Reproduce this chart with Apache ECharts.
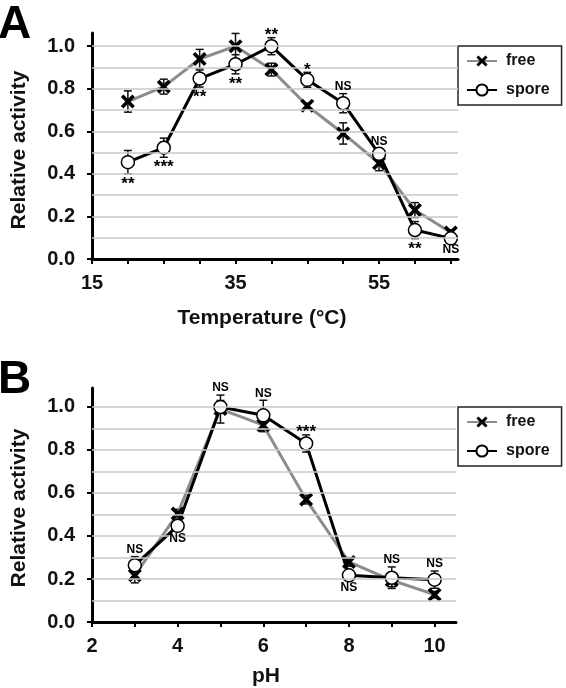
<!DOCTYPE html>
<html>
<head>
<meta charset="utf-8">
<script src="https://cdn.jsdelivr.net/npm/echarts@6/dist/echarts.min.js"></script>
<style>html,body{margin:0;padding:0;background:#fff;}#c{width:566px;height:688px;}</style>
</head>
<body>
<div id="c"></div>
<script>
// ---- Data (Panel A: temperature) ----
const tempCats = [20, 25, 30, 35, 40, 45, 50, 55, 60, 65];
const tempFree = [0.74, 0.81, 0.94, 1.00, 0.89, 0.72, 0.59, 0.45, 0.23, 0.125];
const tempFreeErr = [0.05, 0.035, 0.045, 0.06, 0.03, 0.012, 0.05, 0.035, 0.035, 0.012];
const tempSpore = [0.455, 0.523, 0.848, 0.915, 1.00, 0.842, 0.732, 0.494, 0.136, 0.097];
const tempSporeErr = [0.055, 0.045, 0.04, 0.045, 0.04, 0.035, 0.045, 0.025, 0.04, 0.012];
const tempSig = ['**', '***', '**', '**', '**', '*', 'NS', 'NS', '**', 'NS'];
const tempSigSide = ['below', 'below', 'below', 'below', 'above', 'above', 'above', 'above', 'below', 'below'];
const tempTickLabels = [15, 35, 55];
const tempTicks = [15, 20, 25, 30, 35, 40, 45, 50, 55, 60, 65];

// ---- Data (Panel B: pH) ----
const phCats = [3, 4, 5, 6, 7, 8, 9, 10];
const phFree = [0.217, 0.504, 0.99, 0.915, 0.569, 0.279, 0.194, 0.127];
const phFreeErr = [0.035, 0.02, 0.065, 0.03, 0.02, 0.02, 0.03, 0.015];
const phSpore = [0.264, 0.447, 1.00, 0.961, 0.83, 0.217, 0.206, 0.197];
const phSporeErr = [0.04, 0.02, 0.03, 0.07, 0.04, 0.015, 0.05, 0.04];
const phSig = ['NS', 'NS', 'NS', 'NS', '***', 'NS', 'NS', 'NS'];
const phSigSide = ['above', 'below', 'above', 'above', 'above', 'below', 'above', 'above'];
const phTickLabels = [2, 4, 6, 8, 10];
const phTicks = [2, 3, 4, 5, 6, 7, 8, 9, 10];

const yTickLabels = [0, 0.2, 0.4, 0.6, 0.8, 1.0];
const gridValues = [0.1, 0.2, 0.3, 0.4, 0.5, 0.6, 0.7, 0.8, 0.9, 1.0];

const FONT = '"Liberation Sans", Arial, Helvetica, sans-serif';
const XPATH = 'path://M0,2.2 L2.2,0 L6,3.8 L9.8,0 L12,2.2 L8.2,6 L12,9.8 L9.8,12 L6,8.2 L2.2,12 L0,9.8 L3.8,6 Z';

function errRender(params, api) {
  const x = api.value(0), y = api.value(1), e = api.value(2);
  const p1 = api.coord([x, y + e]), p2 = api.coord([x, y - e]);
  const w = 4;
  const st = { stroke: '#111', lineWidth: 1.5 };
  return { type: 'group', children: [
    { type: 'line', shape: { x1: p1[0], y1: p1[1], x2: p2[0], y2: p2[1] }, style: st },
    { type: 'line', shape: { x1: p1[0] - w, y1: p1[1], x2: p1[0] + w, y2: p1[1] }, style: st },
    { type: 'line', shape: { x1: p2[0] - w, y1: p2[1], x2: p2[0] + w, y2: p2[1] }, style: st }
  ]};
}

function panelSeries(idx, cats, free, freeErr, spore, sporeErr, sig, side) {
  const ax = { xAxisIndex: idx, yAxisIndex: idx };
  const sigData = cats.map((c, i) => {
    const isStar = sig[i].indexOf('*') >= 0;
    const above = side[i] === 'above';
    const y = above ? Math.max(free[i] + freeErr[i], spore[i] + sporeErr[i])
                    : Math.min(free[i] - freeErr[i], spore[i] - sporeErr[i]);
    return {
      value: [c, y],
      label: {
        formatter: sig[i],
        position: above ? 'top' : 'bottom',
        distance: isStar ? (above ? -6 : 2) : (above ? 1 : 3),
        fontSize: isStar ? 17 : 12,
        lineHeight: isStar ? 17 : 12
      }
    };
  });
  return [
    Object.assign({ type: 'line', name: 'grid' + idx, data: [], z: 1, silent: true,
      markLine: { silent: true, symbol: 'none', animation: false, label: { show: false },
        lineStyle: { color: '#c8c8c8', width: 1.5, type: 'solid' },
        data: gridValues.map(v => ({ yAxis: v })) } }, ax),
    Object.assign({ type: 'line', name: 'free', data: cats.map((c, i) => [c, free[i]]),
      symbol: XPATH, symbolSize: 14, showAllSymbol: true, z: 3,
      itemStyle: { color: '#000' }, lineStyle: { color: '#8c8c8c', width: 3 } }, ax),
    Object.assign({ type: 'custom', name: 'freeErr', renderItem: errRender, z: 2, silent: true,
      encode: { x: 0, y: 1 }, data: cats.map((c, i) => [c, free[i], freeErr[i]]) }, ax),
    Object.assign({ type: 'custom', name: 'sporeErr', renderItem: errRender, z: 2, silent: true,
      encode: { x: 0, y: 1 }, data: cats.map((c, i) => [c, spore[i], sporeErr[i]]) }, ax),
    Object.assign({ type: 'line', name: 'spore', data: cats.map((c, i) => [c, spore[i]]),
      symbol: 'circle', symbolSize: 13, showAllSymbol: true, z: 4,
      itemStyle: { color: '#fff', borderColor: '#000', borderWidth: 1.5 },
      lineStyle: { color: '#000', width: 3 } }, ax),
    Object.assign({ type: 'scatter', name: 'sig' + idx, data: sigData, symbolSize: 0, z: 5, silent: true,
      itemStyle: { opacity: 1 },
      label: { show: true, color: '#000', fontWeight: 'bold', fontFamily: FONT } }, ax)
  ];
}

function yAxisDef(idx, max) {
  return {
    type: 'value', gridIndex: idx, min: 0, max: max,
    axisLine: { show: true, lineStyle: { color: '#000', width: 3 } },
    axisTick: { show: true, length: 5, inside: false, lineStyle: { color: '#000', width: 2 }, customValues: yTickLabels },
    axisLabel: { customValues: yTickLabels, formatter: v => v.toFixed(1), margin: 17,
      fontSize: 20, fontWeight: 'bold', color: '#111', fontFamily: FONT },
    splitLine: { show: false }
  };
}
function xAxisDef(idx, min, max, ticks, labels) {
  return {
    type: 'value', gridIndex: idx, min: min, max: max,
    axisLine: { show: true, onZero: false, lineStyle: { color: '#000', width: 3 } },
    axisTick: { show: true, length: 5, inside: false, lineStyle: { color: '#000', width: 2 }, customValues: ticks },
    axisLabel: { customValues: labels, margin: 14, fontSize: 20, fontWeight: 'bold', color: '#111', fontFamily: FONT },
    splitLine: { show: false }
  };
}
function legendDef(top) {
  return {
    data: ['free', 'spore'], orient: 'vertical', left: 458, top: top,
    backgroundColor: '#fff', borderColor: '#222', borderWidth: 1.5, borderRadius: 0,
    padding: [7, 12, 7, 8], itemGap: 13, itemWidth: 30, itemHeight: 14,
    selectedMode: false,
    textStyle: { fontSize: 16, fontWeight: 'bold', color: '#111', fontFamily: FONT, padding: [0, 0, 0, 4] }
  };
}

const chart = echarts.init(document.getElementById('c'), null, { renderer: 'canvas' });
chart.setOption({
  animation: false,
  backgroundColor: '#fff',
  grid: [
    { left: 92, top: 33, width: 366, height: 226 },
    { left: 92, top: 388, width: 364, height: 234 }
  ],
  xAxis: [
    xAxisDef(0, 15, 66, tempTicks, tempTickLabels),
    xAxisDef(1, 2, 10.5, phTicks, phTickLabels)
  ],
  yAxis: [yAxisDef(0, 1.062), yAxisDef(1, 1.088)],
  legend: [legendDef(46), legendDef(407)],
  graphic: [
    { type: 'text', left: -2, top: 2, style: { text: 'A', fontSize: 46, fontWeight: 'bold', fontFamily: FONT, fill: '#000' } },
    { type: 'text', left: -2, top: 357, style: { text: 'B', fontSize: 46, fontWeight: 'bold', fontFamily: FONT, fill: '#000' } },
    { type: 'text', x: 262, y: 318, style: { text: 'Temperature (°C)', fontSize: 21, fontWeight: 'bold', fontFamily: FONT, fill: '#111', align: 'center', verticalAlign: 'middle' } },
    { type: 'text', x: 266, y: 676, style: { text: 'pH', fontSize: 21, fontWeight: 'bold', fontFamily: FONT, fill: '#111', align: 'center', verticalAlign: 'middle' } },
    { type: 'text', x: 19, y: 150, rotation: Math.PI / 2, style: { text: 'Relative activity', fontSize: 21, fontWeight: 'bold', fontFamily: FONT, fill: '#111', align: 'center', verticalAlign: 'middle' } },
    { type: 'text', x: 19, y: 508, rotation: Math.PI / 2, style: { text: 'Relative activity', fontSize: 21, fontWeight: 'bold', fontFamily: FONT, fill: '#111', align: 'center', verticalAlign: 'middle' } }
  ],
  series: [].concat(
    panelSeries(0, tempCats, tempFree, tempFreeErr, tempSpore, tempSporeErr, tempSig, tempSigSide),
    panelSeries(1, phCats, phFree, phFreeErr, phSpore, phSporeErr, phSig, phSigSide)
  )
});
</script>
</body>
</html>
